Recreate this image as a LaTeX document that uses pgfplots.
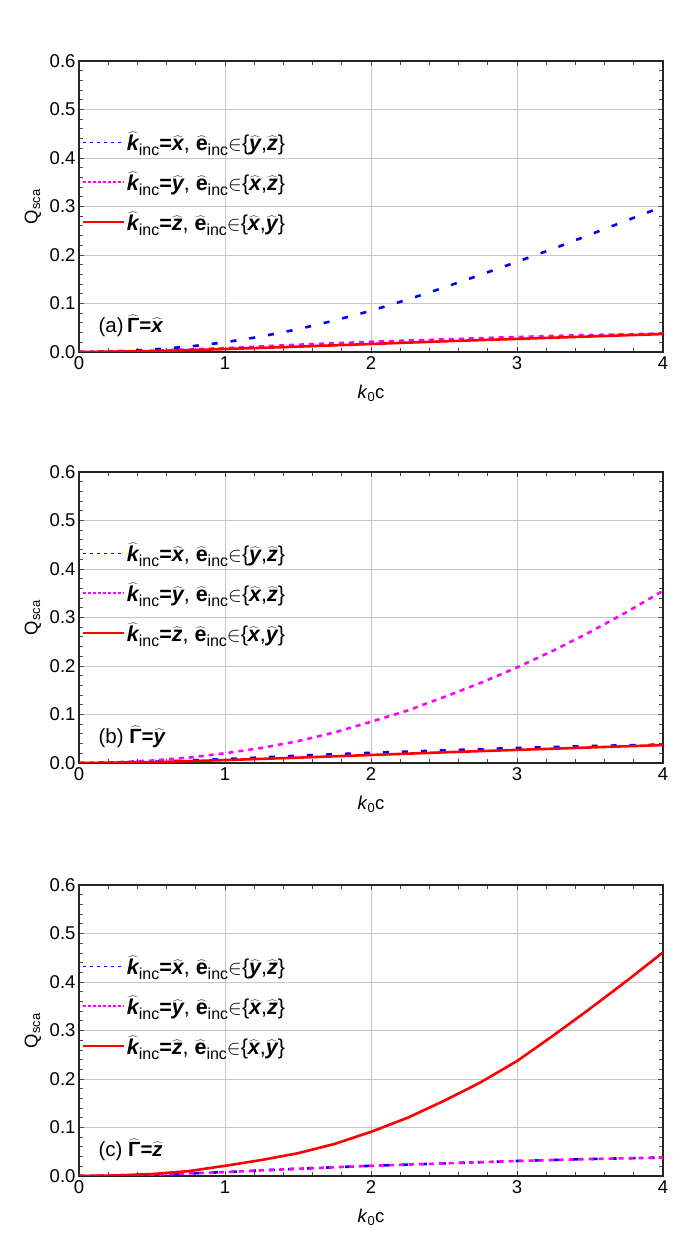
\documentclass[border=0pt]{standalone}
\usepackage{pgfplots}
\pgfplotsset{compat=1.18}
\usepackage{fontspec}
\setmainfont{Liberation Sans}

\definecolor{cB}{rgb}{0,0,1}
\definecolor{cM}{rgb}{1,0,1}
\definecolor{cR}{rgb}{1,0,0}

\newcommand{\fs}{\fontsize{18.5}{22}\selectfont}
\newcommand{\fl}{\fontsize{21.5}{25}\selectfont}
\newcommand{\fp}{\fontsize{20.5}{25}\selectfont}
\newcommand{\hb}[1]{$\widehat{\mbox{\bfseries\itshape #1}}$}
\newcommand{\hu}[1]{$\widehat{\mbox{\bfseries #1}}$}
\newcommand{\inc}{\raisebox{-0.22em}{\fontsize{16}{16}\selectfont inc}}
\newcommand{\leg}[3]{\hb{k}\inc\textbf{=}\hb{#1}, \hu{e}\inc$\in$\{\hb{#2},\hb{#3}\}}

\pgfplotstableread{
x y
0 0
0.5 0.0025
1 0.008
1.5 0.015
2 0.021
2.5 0.026
3 0.031
3.5 0.035
4 0.038
}\smallA

\pgfplotstableread{
x y
0 0
0.5 0.0015
1 0.006
1.5 0.011
2 0.0165
2.5 0.022
3 0.027
3.5 0.032
4 0.037
}\smallB

\pgfplotstableread{
x y
0 0
0.25 0.0013
0.5 0.005
0.75 0.011
1 0.02
1.25 0.032
1.5 0.047
1.75 0.065
2 0.085
2.25 0.108
2.5 0.133
2.75 0.159
3 0.186
3.25 0.213
3.5 0.242
3.75 0.271
4 0.300
}\bigA

\pgfplotstableread{
x y
0 0
0.25 0.0013
0.5 0.005
0.75 0.011
1 0.02
1.25 0.031
1.5 0.045
1.75 0.063
2 0.085
2.25 0.108
2.5 0.136
2.75 0.165
3 0.197
3.25 0.232
3.5 0.270
3.75 0.311
4 0.355
}\bigB

\pgfplotstableread{
x y
0 0
0.25 0.001
0.5 0.004
0.75 0.010
1 0.021
1.25 0.033
1.5 0.047
1.75 0.066
2 0.091
2.25 0.120
2.5 0.155
2.75 0.193
3 0.237
3.25 0.290
3.5 0.345
3.75 0.402
4 0.461
}\bigC

\pgfplotsset{
  myaxis/.style={
    scale only axis, width=584pt, height=291pt,
    anchor=south west,
    xmin=0, xmax=4, ymin=0, ymax=0.6,
    xtick={0,1,2,3,4}, ytick={0,0.1,0.2,0.3,0.4,0.5,0.6},
    minor x tick num=4, minor y tick num=4,
    grid=major, major grid style={black!22, line width=0.8pt},
    axis line style={line width=1.2pt, black!85},
    major tick style={black!70, line width=0.8pt},
    minor tick style={black!70, line width=0.8pt},
    minor tick length=4pt, major tick length=5pt,
    tick label style={font=\fs},
    xticklabel style={yshift=-1pt},
    label style={font=\fs},
    yticklabel style={/pgf/number format/.cd, fixed, fixed zerofill, precision=1},
    /pgf/number format/assume math mode=true,
    xlabel={\textit{k}\textsubscript{0}c},
    ylabel={Q\textsubscript{sca}},
    x label style={at={(axis description cs:0.5,-0.141)}, anchor=center},
    y label style={at={(axis description cs:-0.079,0.5)}, anchor=center},
    legend style={at={(rel axis cs:0,1)}, anchor=north west, xshift=3pt, yshift=-69pt,
      draw=none, fill=none, inner sep=0pt, row sep=15.5pt, font=\fl},
    legend cell align=left,
    legend image code/.code={\draw[##1] (0pt,0pt) -- (41pt,0pt);},
  },
  bl/.style={cB, line width=2.6pt, dash pattern=on 6pt off 13pt},
  mg/.style={cM, line width=2.6pt, dash pattern=on 5pt off 5pt},
  rd/.style={cR, line width=2.6pt},
}

\newcommand{\legs}{%
  \addlegendimage{cB, line width=1.6pt, dash pattern=on 2.7pt off 4.3pt}
  \addlegendentry{\leg{x}{y}{z}}
  \addlegendimage{cM, line width=1.6pt, dash pattern=on 3pt off 2pt}
  \addlegendentry{\leg{y}{x}{z}}
  \addlegendimage{cR, line width=1.7pt}
  \addlegendentry{\leg{z}{x}{y}}
}

\begin{document}
\begin{tikzpicture}[font=\fs]
\useasboundingbox (0,0) rectangle (692pt,1249pt);

\begin{axis}[myaxis, at={(79pt,897pt)}]
\legs
\addplot[bl, forget plot] table {\bigA};
\addplot[mg, forget plot] table {\smallA};
\addplot[rd, forget plot] table {\smallB};
\node[anchor=west, font=\fp] at (axis cs:0.11,0.054) {(a)\,\hu{Γ}\textbf{=}\hb{x}};
\end{axis}

\begin{axis}[myaxis, at={(79pt,486pt)}]
\legs
\addplot[bl, forget plot] table {\smallA};
\addplot[mg, forget plot] table {\bigB};
\addplot[rd, forget plot] table {\smallB};
\node[anchor=west, font=\fp] at (axis cs:0.11,0.054) {(b) \hu{Γ}\textbf{=}\hb{y}};
\end{axis}

\begin{axis}[myaxis, at={(79pt,73pt)}]
\legs
\addplot[bl, forget plot] table {\smallA};
\addplot[mg, forget plot] table {\smallA};
\addplot[rd, forget plot] table {\bigC};
\node[anchor=west, font=\fp] at (axis cs:0.11,0.054) {(c) \hu{Γ}\textbf{=}\hb{z}};
\end{axis}
\end{tikzpicture}
\end{document}
